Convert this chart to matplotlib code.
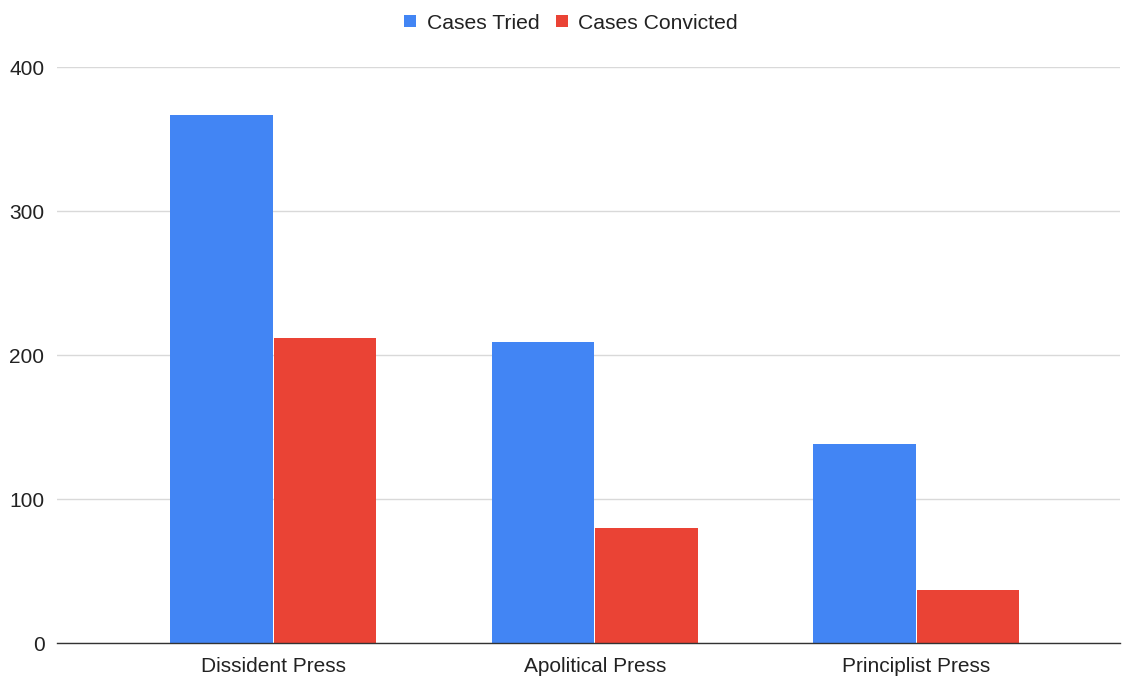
import numpy as np
from matplotlib import pyplot as plt

categories = ['Dissident Press', 'Apolitical Press', 'Principlist Press']
cases_tried = [367, 209, 138]
cases_convicted = [212, 80, 37]
y_ticks = [0, 100, 200, 300, 400]

plt.rcParams['font.family'] = ['Liberation Sans', 'DejaVu Sans']

fig = plt.figure(figsize=(11.22, 6.77), dpi=100)
ax = fig.add_axes([0.0508, 0.0502, 0.9472, 0.8508])

x = np.arange(len(categories))
w = 0.322
ax.bar(x - w / 2, cases_tried, width=w - 0.004, color='#4285F4', label='Cases Tried', zorder=3)
ax.bar(x + w / 2, cases_convicted, width=w - 0.004, color='#EA4335', label='Cases Convicted', zorder=3)

ax.set_xlim(-0.673, 2.633)
ax.set_ylim(0, 400)
ax.set_yticks(y_ticks)
ax.set_xticks(x)
ax.set_xticklabels(categories)
ax.tick_params(axis='both', length=0, labelsize=15, colors='#222222')
ax.tick_params(axis='y', pad=9)
ax.tick_params(axis='x', pad=10)
ax.yaxis.grid(True, color='#d9d9d9', linewidth=1, zorder=0)
for side in ['top', 'right', 'left']:
    ax.spines[side].set_visible(False)
ax.spines['bottom'].set_color('#333333')
ax.spines['bottom'].set_linewidth(1)
ax.spines['bottom'].set_zorder(4)

fig.legend(loc='upper center', bbox_to_anchor=(0.509, 1.008), ncol=2, frameon=False,
           fontsize=15.2, handlelength=0.55, handleheight=0.55, handletextpad=0.5,
           columnspacing=0.8, labelcolor='#222222')

plt.savefig('out.png')
